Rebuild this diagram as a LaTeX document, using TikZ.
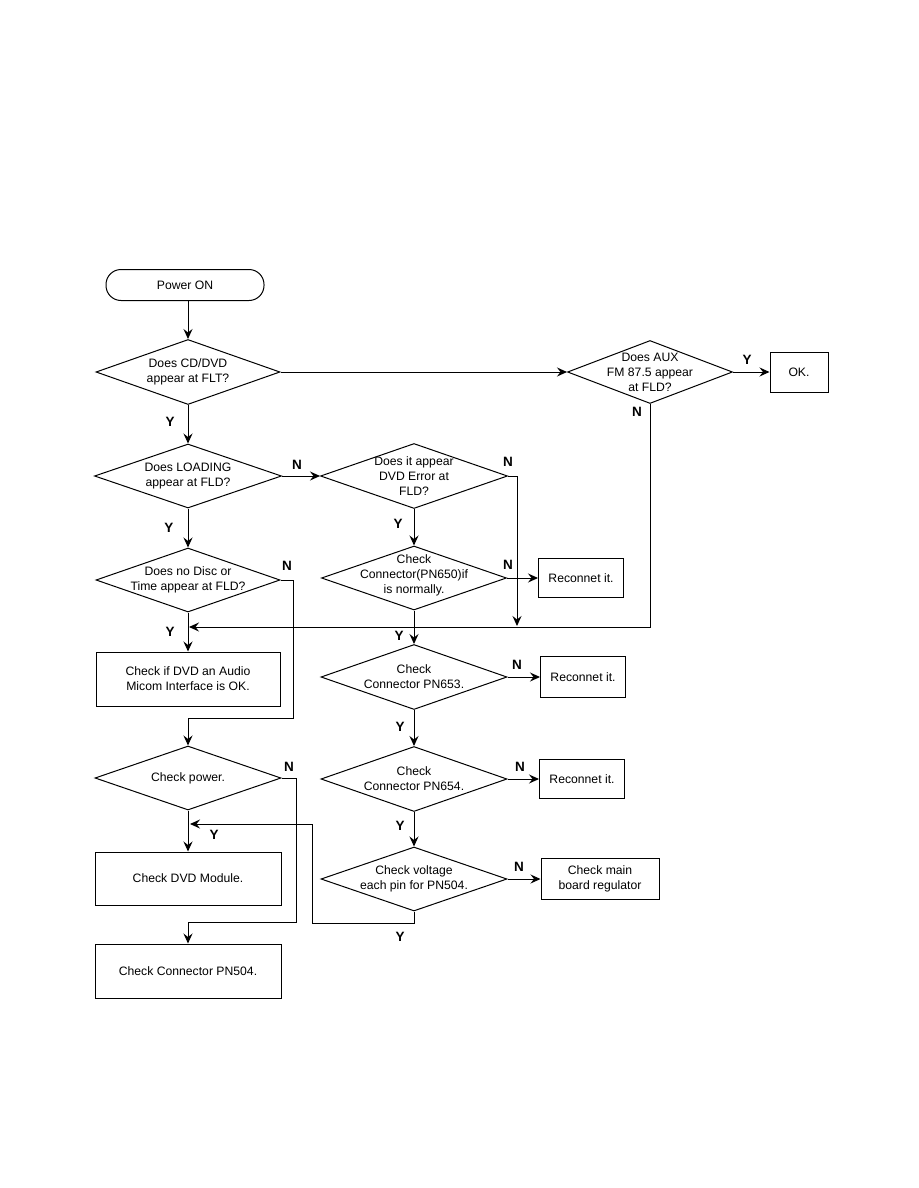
\documentclass[tikz,border=0pt]{standalone}
\usepackage{fontspec}
\setmainfont{Liberation Sans}
\usetikzlibrary{shapes.geometric,arrows.meta}

\begin{document}
\begin{tikzpicture}[x=1pt, y=-1pt,
  font=\fontsize{12.2}{15}\selectfont,
  line width=1pt,
  arr/.style={-{Stealth[length=10pt,width=9pt,inset=3.5pt]}},
  term/.style={draw, rounded corners=15pt, minimum width=158pt, minimum height=31pt},
  dia/.style={draw, diamond, inner sep=0pt},
  txt/.style={align=center, inner sep=0pt},
  box/.style={draw, align=center, inner sep=2pt},
  yn/.style={font=\fontsize{13.5}{14}\selectfont\bfseries, inner sep=0pt}]

\useasboundingbox (0,0) rectangle (918,1188);

% left column
\node[term] (pwr) at (185,285) {Power ON};
\node[dia, minimum width=184pt, minimum height=65pt] (d1) at (188,372) {};
\node[txt] (d1t) at (d1) {Does CD/DVD\\ appear at FLT?};
\node[dia, minimum width=187pt, minimum height=64pt] (d2) at (188,476) {};
\node[txt] (d2t) at (d2) {Does LOADING\\ appear at FLD?};
\node[dia, minimum width=184pt, minimum height=64pt] (dnd) at (188,580) {};
\node[txt] (dndt) at (dnd) {Does no Disc or\\ Time appear at FLD?};
\node[box, minimum width=184pt, minimum height=54pt] (chk1) at (188,679) {Check if DVD an Audio\\ Micom Interface is OK.};
\node[dia, minimum width=186pt, minimum height=64pt] (dpw) at (188,778) {};
\node[txt] (dpwt) at (dpw) {Check power.};
\node[box, minimum width=186pt, minimum height=53pt] (dvd) at (188,878.5) {Check DVD Module.};
\node[box, minimum width=186pt, minimum height=54pt] (pn504) at (188,971) {Check Connector PN504.};

% middle column
\node[dia, minimum width=187pt, minimum height=65pt] (d3) at (414,476) {};
\node[txt] (d3t) at (d3) {Does it appear\\ DVD Error at\\ FLD?};
\node[dia, minimum width=185pt, minimum height=64pt] (d4) at (414,578) {};
\node[txt] (d4t) at (414,575) {Check\\ Connector(PN650)if\\ is normally.};
\node[dia, minimum width=186pt, minimum height=65pt] (d5) at (414,677) {};
\node[txt] (d5t) at (d5) {Check\\ Connector PN653.};
\node[dia, minimum width=186pt, minimum height=65pt] (d6) at (414,779) {};
\node[txt] (d6t) at (d6) {Check\\ Connector PN654.};
\node[dia, minimum width=186pt, minimum height=64pt] (d7) at (414,879) {};
\node[txt] (d7t) at (d7) {Check voltage\\ each pin for PN504.};

% right side
\node[dia, minimum width=165pt, minimum height=63pt] (aux) at (650,372) {};
\node[txt] (auxt) at (aux) {Does AUX\\ FM 87.5 appear\\ at FLD?};
\node[box, minimum width=58pt, minimum height=40pt] (ok) at (799,372) {OK.};
\node[box, minimum width=85pt, minimum height=39pt] (rc1) at (581,578) {Reconnet it.};
\node[box, minimum width=85pt, minimum height=41pt] (rc2) at (583,677) {Reconnet it.};
\node[box, minimum width=85pt, minimum height=39pt] (rc3) at (582,779) {Reconnet it.};
\node[box, minimum width=118pt, minimum height=41pt] (reg) at (600,879) {Check main\\ board regulator};

\coordinate (j1) at (189,627);
\coordinate (j2) at (517,626);
\coordinate (j5) at (190,824);

% connectors
\draw[arr] (d1.north |- pwr.south) -- (d1.north);
\draw[arr] (d1.east) -- (aux.west);
\draw[arr] (aux.east) -- (ok.west);
\draw[arr] (aux.south) |- (j1);
\draw[arr] (d1.south) -- (d2.north);
\draw[arr] (d2.east) -- (d3.west);
\draw[arr] (d3.east) -| (j2);
\draw[arr] (d3.south) -- (d4.north);
\draw[arr] (d4.east) -- (rc1.west);
\draw[arr] (d4.south) -- (d5.north);
\draw[arr] (d5.east) -- (rc2.west);
\draw[arr] (d5.south) -- (d6.north);
\draw[arr] (d6.east) -- (rc3.west);
\draw[arr] (d6.south) -- (d7.north);
\draw[arr] (d7.east) -- (reg.west);
\draw[arr] (d7.south) |- (312,923) |- (j5);
\draw[arr] (d2.south) -- (dnd.north);
\draw[arr] (dnd.south) -- (chk1.north);
\draw[arr] (dnd.east) -| (293,718) -| (dpw.north);
\draw[arr] (dpw.south) -- (dvd.north);
\draw[arr] (dpw.east) -| (296,922) -| (pn504.north);

% Y / N labels
\node[yn] (ya) at (747,360) {Y};
\node[yn] (na) at (637,412) {N};
\node[yn] (y1) at (170,422) {Y};
\node[yn] (n2) at (297,465) {N};
\node[yn] (n3) at (508,462) {N};
\node[yn] (y2) at (169,528) {Y};
\node[yn] (y3) at (398,524) {Y};
\node[yn] (n4) at (287,566) {N};
\node[yn] (n5) at (508,565) {N};
\node[yn] (y4) at (170,632) {Y};
\node[yn] (y5) at (399,636) {Y};
\node[yn] (n6) at (517,665) {N};
\node[yn] (y6) at (400,727) {Y};
\node[yn] (n7) at (520,767) {N};
\node[yn] (n8) at (289,767) {N};
\node[yn] (y7) at (400,826) {Y};
\node[yn] (y8) at (214,835) {Y};
\node[yn] (n9) at (519,867) {N};
\node[yn] (y9) at (400,937) {Y};
\end{tikzpicture}
\end{document}
